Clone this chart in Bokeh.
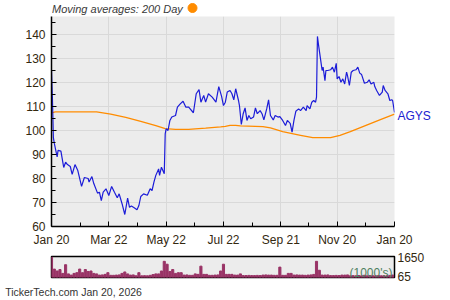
import pandas as pd
from bokeh.plotting import figure
from bokeh.layouts import column
from bokeh.models import FixedTicker, DatetimeTickFormatter, Label, Range1d, LinearAxis
from bokeh.core.properties import value
from bokeh.embed import file_html
from bokeh.resources import INLINE

START = pd.Timestamp("2025-01-20")
END = pd.Timestamp("2026-01-20")
TICKER = "AGYS"
TITLE = "Moving averages: 200 Day"
FOOTER = "TickerTech.com  Jan 20, 2026"

# closing price, days after START
price_days = [0, 1, 2, 3, 6, 7, 10, 13, 15, 17,
              20, 22, 25, 28, 32, 35, 39, 40, 43, 45,
              49, 51, 53, 55, 58, 61, 64, 67, 70, 72,
              75, 78, 81, 83, 85, 88, 91, 93, 95, 98,
              102, 105, 107, 109, 111, 114, 115, 117, 120, 121,
              122, 124, 126, 128, 132, 134, 137, 140, 143, 146,
              151, 154, 157, 159, 162, 164, 167, 171, 175, 178,
              181, 183, 185, 187, 190, 192, 194, 196, 199, 200,
              202, 204, 206, 208, 210, 212, 215, 217, 219, 222,
              224, 226, 229, 231, 233, 236, 238, 241, 243, 246,
              249, 251, 254, 256, 258, 260, 263, 265, 268, 271,
              272, 275, 277, 279, 281, 282, 283, 284, 286, 288,
              289, 291, 292, 294, 297, 299, 301, 303, 304, 306,
              308, 310, 312, 314, 315, 317, 319, 321, 324, 326,
              328, 330, 333, 336, 338, 340, 343, 344, 346, 349,
              352, 353, 355, 358, 360, 362, 363, 365]
price_vals = [125, 113, 97, 94.6, 89, 91.7, 91.4, 84.6, 86.8, 85.8,
              85, 81.7, 85.8, 83.3, 76.7, 80.4, 80, 78.5, 80.8, 77.9,
              73.9, 74.3, 70.8, 74.3, 75.7, 72.9, 76.7, 74.3, 72, 73.6,
              69.6, 65, 71.8, 68, 68.5, 67.8, 67, 68.75, 72.5, 73.6,
              73, 75.7, 75, 78.5, 81.3, 84, 81.3, 84.7, 82, 98.6,
              100.7, 100, 104.2, 105.6, 106.25, 109.7, 111.1, 112.2, 109.7, 109.7,
              107.4, 115.3, 117, 111.8, 114.6, 111.8, 115.3, 113.9, 111.8, 118.3,
              114.2, 110.4, 111.8, 116, 116.7, 115.3, 112.8, 117.4, 112.5, 110.4,
              102.5, 107, 109.4, 104.2, 106.25, 104.9, 105.6, 109.4, 107, 108.3,
              107, 104.4, 109, 112.8, 106.25, 104.4, 106.25, 105.6, 105.8, 104.2,
              102.1, 104.2, 103, 99.3, 104.2, 108, 109, 108.3, 109.7, 108.3,
              110.4, 109, 111.8, 112.5, 111.8, 113.9, 139.2, 136.1, 130.6, 125,
              126.4, 120.8, 125, 125, 125.3, 126.4, 124.3, 128, 121.5, 122.5,
              120.1, 121.5, 119.4, 124.3, 122.9, 118.75, 124.3, 125, 125.3, 126.4,
              123.9, 123.3, 119.7, 120.1, 121.1, 119.4, 120.1, 118.3, 116.7, 114.6,
              116, 118.75, 116.7, 115.3, 112.5, 112.8, 112.5, 107.5]

# 200 day moving average
ma_days = [0, 4, 48, 63, 79, 95, 111, 121, 132, 146, 153, 164, 180, 185,
           190, 196, 201, 225, 233, 246, 265, 278, 297, 307, 318, 334, 350, 365]
ma_vals = [107.3, 107.8, 107.8, 106.8, 105.5, 103.8, 102, 100.8, 100.5, 100.5,
           100.7, 101, 101.5, 101.7, 102.1, 102.1, 101.9, 101.6, 101.1, 99.5,
           98, 97, 97, 98, 99.5, 102, 104.5, 106.8]

# volume (1000's), one bar every 3 days from START
vol_step = 3
vol_vals = [1650, 680, 527, 645, 332, 1035, 293, 195, 332, 390,
            684, 390, 645, 488, 527, 332, 293, 195, 210, 254,
            390, 176, 176, 195, 210, 332, 450, 290, 195, 210,
            137, 390, 137, 150, 137, 176, 234, 293, 293, 527,
            1309, 1075, 488, 645, 332, 390, 390, 195, 210, 176,
            176, 293, 254, 918, 254, 254, 176, 176, 195, 210,
            527, 1075, 254, 254, 254, 195, 195, 293, 156, 156,
            170, 156, 156, 170, 156, 195, 210, 195, 195, 176,
            176, 840, 176, 176, 332, 332, 195, 210, 195, 195,
            176, 195, 210, 250, 1309, 586, 195, 195, 210, 156,
            156, 170, 156, 195, 195, 210, 137, 150, 137, 160,
            137, 180, 137, 150, 137, 137, 160, 137, 140, 137,
            170, 200]

x_tick_dates = ["2025-01-20", "2025-03-22", "2025-05-22", "2025-07-22",
                "2025-09-21", "2025-11-20", "2026-01-20"]
y_ticks = [60, 70, 80, 90, 100, 110, 120, 130, 140]
vol_ticks = [65, 1650]
ticker_label_at = 106  # price level where the symbol is written

FONT = "Liberation Sans"
LABEL_COLOR = "#33280f"
BG = "#ececec"
GRID = "#d9d9d9"

W = 450
FRAME_L, FRAME_R = 51, 394
H_HEAD, H_MAIN, H_VOL = 16, 234, 50


def ms(t):
    return pd.Timestamp(t).value // 10**6


px = [START + pd.Timedelta(days=d) for d in price_days]
mx = [START + pd.Timedelta(days=d) for d in ma_days]
vx = [START + pd.Timedelta(days=vol_step * i) for i in range(len(vol_vals))]

major = [ms(d) for d in x_tick_dates]
minor = [(a + b) / 2 for a, b in zip(major[:-1], major[1:])]

# ---- header strip (title + legend dot); its frame is aligned with the
# charts below, so the x range is given in page pixels over that frame ----
h = figure(width=W, height=H_HEAD, x_range=Range1d(FRAME_L, FRAME_R),
           y_range=Range1d(H_HEAD, 0),
           output_backend="svg", toolbar_location=None,
           min_border_left=FRAME_L, min_border_right=W - FRAME_R,
           min_border_top=0, min_border_bottom=0)
h.axis.visible = False
h.grid.visible = False
h.outline_line_color = None
h.background_fill_color = "white"
h.text(x=[51.5], y=[8.5], text=[TITLE], text_font=value(FONT),
       text_font_size="11px", text_font_style="italic", text_color="#3a3a3a",
       text_baseline="middle", text_align="left")
h.scatter(x=[192], y=[7.5], size=9, color="#ff8c00")

# ---- price chart ----
p = figure(width=W, height=H_MAIN, x_axis_type="datetime",
           x_range=Range1d(START, END), y_range=Range1d(60, 147.5),
           output_backend="svg", toolbar_location=None,
           min_border_left=FRAME_L, min_border_right=W - FRAME_R,
           min_border_top=0, min_border_bottom=24)
p.background_fill_color = BG
p.border_fill_color = "white"
p.outline_line_color = None

p.line(mx, ma_vals, color="#ff8c00", line_width=1.3)
p.line(px, price_vals, color="#1c1cd8", line_width=1.2)

p.xaxis.ticker = FixedTicker(ticks=major, minor_ticks=minor)
p.xaxis.formatter = DatetimeTickFormatter(days="%b %d", months="%b %d", years="%b %d")
p.yaxis.ticker = FixedTicker(ticks=y_ticks,
                             minor_ticks=[t + 5 for t in y_ticks])
for ax in (p.xaxis[0], p.yaxis[0]):
    ax.axis_line_color = "black"
    ax.axis_line_width = 1.5
    ax.major_tick_in = 5
    ax.major_tick_out = 0
    ax.minor_tick_in = 4
    ax.minor_tick_out = 0
    ax.major_tick_line_color = "black"
    ax.minor_tick_line_color = "black"
    ax.major_label_text_font = FONT
    ax.major_label_text_font_size = "12px"
    ax.major_label_text_color = LABEL_COLOR
p.xaxis.major_label_standoff = 6
p.yaxis.major_label_standoff = 6
p.xgrid.grid_line_color = GRID
p.ygrid.grid_line_color = GRID

sym_axis = LinearAxis(ticker=FixedTicker(ticks=[ticker_label_at]),
                      major_label_overrides={ticker_label_at: TICKER})
sym_axis.axis_line_color = None
sym_axis.major_tick_line_color = None
sym_axis.minor_tick_line_color = None
sym_axis.major_label_standoff = -3
sym_axis.major_label_text_font = FONT
sym_axis.major_label_text_font_size = "12px"
sym_axis.major_label_text_color = "#2020d0"
p.add_layout(sym_axis, "right")

# ---- volume strip ----
v = figure(width=W, height=H_VOL, x_axis_type="datetime",
           x_range=p.x_range, y_range=Range1d(0, 1700),
           y_axis_location="right",
           output_backend="svg", toolbar_location=None,
           min_border_left=FRAME_L, min_border_right=W - FRAME_R,
           min_border_top=6, min_border_bottom=15)
v.background_fill_color = BG
v.outline_line_color = "black"
v.outline_line_width = 1.5
v.grid.visible = False
v.vbar(x=vx, top=vol_vals, width=vol_step * 86400000 * 0.75,
       color="#993366")
v.yaxis.ticker = FixedTicker(ticks=vol_ticks)
v.yaxis.axis_line_color = None
v.yaxis.major_tick_line_color = None
v.yaxis.minor_tick_line_color = None
v.yaxis.major_label_standoff = -3
v.yaxis.major_label_text_font = FONT
v.yaxis.major_label_text_font_size = "12px"
v.yaxis.major_label_text_color = LABEL_COLOR

# footer text carried by the volume strip's bottom axis
footer_at = ms(START + pd.Timedelta(days=25))
v.xaxis.ticker = FixedTicker(ticks=[footer_at])
v.xaxis.major_label_overrides = {footer_at: FOOTER}
v.xaxis.axis_line_color = None
v.xaxis.major_tick_line_color = None
v.xaxis.minor_tick_line_color = None
v.xaxis.major_label_standoff = 2
v.xaxis.major_label_text_font = FONT
v.xaxis.major_label_text_font_size = "10.5px"
v.xaxis.major_label_text_color = "#333333"

v.add_layout(Label(x=FRAME_R - FRAME_L - 2, y=-2, x_units="screen", y_units="screen",
                   text="(1000's)", text_font=FONT, text_font_size="12px",
                   text_color="#4f8060", text_align="right",
                   text_baseline="bottom"))

layout = column(h, p, v, spacing=0)
open("out.html", "w").write(file_html(layout, INLINE))
